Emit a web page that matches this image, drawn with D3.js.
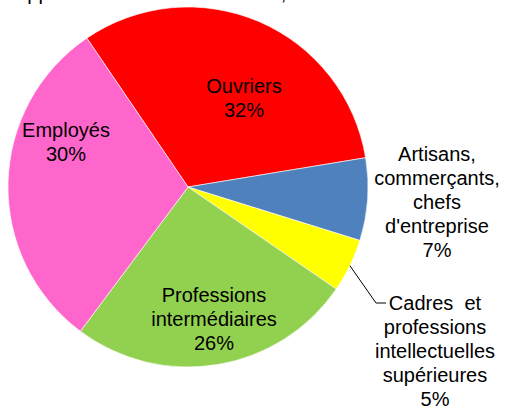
<!DOCTYPE html>
<html>
<head>
<meta charset="utf-8">
<script src="https://cdn.jsdelivr.net/npm/d3@7"></script>
<style>
  body { margin: 0; background: #fff; }
  svg { display: block; font-family: "Liberation Sans", Arial, sans-serif; }
</style>
</head>
<body>
<div id="chart"></div>
<script>
// Daten (im Uhrzeigersinn, beginnend bei "Ouvriers")
const categories = ["Ouvriers", "Artisans, commerçants, chefs d'entreprise", "Cadres  et professions intellectuelles supérieures", "Professions intermédiaires", "Employés"];
const values = [31.9, 7.4, 4.8, 25.6, 30.3];
const labelLines = [
  ["Ouvriers"],
  ["Artisans,", "commerçants,", "chefs", "d'entreprise"],
  ["Cadres  et", "professions", "intellectuelles", "supérieures"],
  ["Professions", "intermédiaires"],
  ["Employés"]
];
const colors = ["#ff0000", "#4f81bd", "#ffff00", "#92d050", "#ff66cc"];

const width = 508;
const height = 415;
const cx = 188, cy = 187, radius = 180;
const fontSize = 20, lineHeight = 24;

// Label-Platzierung (Blockmitte relativ zum Kreismittelpunkt)
const labelLayout = [
  { dx: 56, dy: -89.5 },
  { dx: 249, dy: 14.5 },
  { dx: 247, dy: 164 },
  { dx: 26, dy: 132 },
  { dx: -122, dy: -45 }
];

const svg = d3.select("#chart")
  .append("svg")
  .attr("width", width)
  .attr("height", height);

// abgeschnittener Titel am oberen Rand
svg.append("text")
  .attr("x", 14)
  .attr("y", 0)
  .attr("font-size", fontSize)
  .attr("fill", "#000")
  .text("Appartenance sociale actuelle,");

const start = -34.2 * Math.PI / 180;
const pie = d3.pie()
  .sort(null)
  .value(d => d)
  .startAngle(start)
  .endAngle(start + 2 * Math.PI);

const arcs = pie(values);
const arc = d3.arc().innerRadius(0).outerRadius(radius);
const edgeArc = d3.arc().innerRadius(radius).outerRadius(radius);

const g = svg.append("g")
  .attr("transform", `translate(${cx},${cy})`);

g.selectAll("path.slice")
  .data(arcs)
  .enter()
  .append("path")
  .attr("class", "slice")
  .attr("d", arc)
  .attr("fill", (d, i) => colors[i])
  .attr("stroke", "#fff")
  .attr("stroke-width", 0.6);

// Führungslinie für die kleine Scheibe "Cadres"
const small = arcs[2];
const p0 = edgeArc.centroid(small);
const lbl = labelLayout[2];
const lineY = lbl.dy - (labelLines[2].length) * lineHeight / 2 + 0 - 2;
const p1 = [lbl.dx - 59, lbl.dy - 2 * lineHeight - 0];
g.append("path")
  .attr("d", d3.line()([p0, p1, [p1[0] + 10, p1[1]]]))
  .attr("fill", "none")
  .attr("stroke", "#000")
  .attr("stroke-width", 1);

// Beschriftungen
arcs.forEach((d, i) => {
  const lines = labelLines[i].concat([Math.round(values[i]) + "%"]);
  const pos = labelLayout[i];
  const t = g.append("text")
    .attr("text-anchor", "middle")
    .attr("font-size", fontSize)
    .attr("fill", "#000")
    .style("white-space", "pre");
  lines.forEach((line, k) => {
    t.append("tspan")
      .attr("x", pos.dx)
      .attr("y", pos.dy + 7 + (k - (lines.length - 1) / 2) * lineHeight)
      .text(line);
  });
});
</script>
</body>
</html>
